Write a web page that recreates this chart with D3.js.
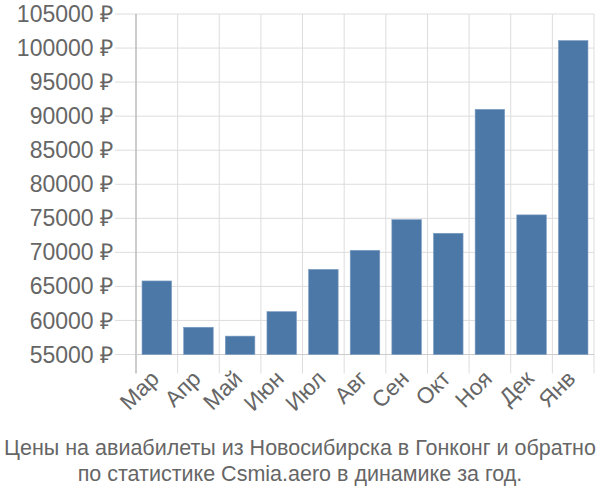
<!DOCTYPE html>
<html><head><meta charset="utf-8">
<script src="https://cdn.jsdelivr.net/npm/d3@7"></script>
<style>body{margin:0;background:#fff}svg{display:block}text{font-family:"Liberation Sans",Arial,sans-serif;fill:#666}</style>
</head><body><svg id="c" width="600" height="500"></svg>
<script>
const categories = ["Мар","Апр","Май","Июн","Июл","Авг","Сен","Окт","Ноя","Дек","Янв"];
const values = [65800,59000,57700,61300,67500,70300,74800,72800,91000,75500,101100];
const yTicks = [55000,60000,65000,70000,75000,80000,85000,90000,95000,100000,105000];
const titleLines = ["Цены на авиабилеты из Новосибирска в Гонконг и обратно","по статистике Csmia.aero в динамике за год."];

(function(){
const svg = d3.select("#c");
const mL = 136, mR = 594, mT = 14, mB = 354.5;
const x = d3.scaleBand().domain(categories).range([mL,mR]).paddingInner(0.29).paddingOuter(0.145);
const y = d3.scaleLinear().domain([55000,105000]).range([mB,mT]);

svg.append("g").selectAll("line").data(yTicks).join("line")
  .attr("x1", mL-21).attr("x2", mR).attr("y1", d=>y(d)).attr("y2", d=>y(d))
  .attr("stroke","#ddd").attr("stroke-width",1);
const bounds = categories.map(c=>x(c)-x.step()*x.paddingInner()/2);
bounds.push(mR);
svg.append("g").selectAll("line").data(bounds).join("line")
  .attr("x1", d=>d).attr("x2", d=>d).attr("y1", mT).attr("y2", mB+19)
  .attr("stroke","#ddd").attr("stroke-width",1);
svg.append("line").attr("x1",mL).attr("x2",mL).attr("y1",mT).attr("y2",mB+19).attr("stroke","#aaa");
svg.append("line").attr("x1",mL).attr("x2",mR).attr("y1",mB).attr("y2",mB).attr("stroke","#ccc");

svg.append("g").selectAll("rect").data(values).join("rect")
  .attr("x",(d,i)=>x(categories[i])).attr("width",x.bandwidth())
  .attr("y",d=>y(d)).attr("height",d=>mB-y(d))
  .attr("fill","#4c78a8").attr("stroke","#7d9dc3").attr("stroke-width",0.6);

svg.append("g").selectAll("text").data(yTicks).join("text")
  .attr("x", 113).attr("y", d=>y(d)).attr("dy","0.35em").attr("text-anchor","end")
  .attr("font-size",23).text(d=>d+" ₽");

svg.append("g").selectAll("text").data(categories).join("text")
  .attr("transform", d=>`translate(${x(d)+x.bandwidth()/2-2},${mB+20}) rotate(-45)`)
  .attr("text-anchor","end").attr("dy","0.35em").attr("font-size",22.5).text(d=>d);

svg.append("g").selectAll("text").data(titleLines).join("text")
  .attr("x",300).attr("y",(d,i)=>455+i*26).attr("text-anchor","middle")
  .attr("font-size",21.5).text(d=>d);
})();
</script></body></html>
